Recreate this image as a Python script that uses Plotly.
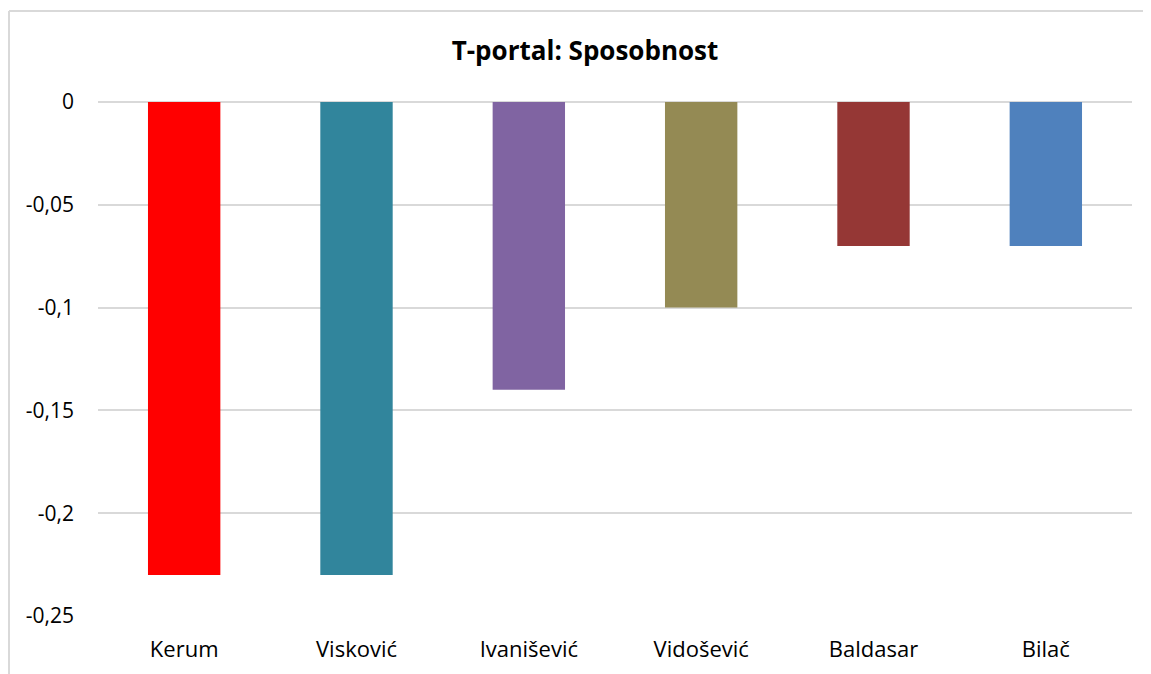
import plotly.graph_objects as go

categories = ["Kerum", "Visković", "Ivanišević", "Vidošević", "Baldasar", "Bilač"]
values = [-0.23, -0.23, -0.14, -0.10, -0.07, -0.07]
colors = ["#FF0000", "#31859C", "#8064A2", "#948A54", "#953735", "#4F81BD"]
tick_vals = [0, -0.05, -0.1, -0.15, -0.2, -0.25]
tick_text = ["0", "-0,05", "-0,1", "-0,15", "-0,2", "-0,25"]

VW, VH = 1151, 674
OFF = 8  # page body margin
W, H = VW - OFF, VH - OFF
L, R, T, B = 98 - OFF, 19, 102 - OFF, 58

fig = go.Figure(go.Bar(x=categories, y=values, marker_color=colors, marker_line_width=0, width=0.42))

pw = W - L - R
ph = H - T - B
bx0 = (9 - OFF - L) / pw
bx1 = (W + 40 - L) / pw
by0 = -(H) / ph
by1 = (H - B - (11 - OFF)) / ph
border = dict(color="#D9D9D9", width=2)
fig.add_shape(type="line", xref="paper", yref="paper", x0=bx0, x1=bx0, y0=by0, y1=by1, line=border, layer="below")
fig.add_shape(type="line", xref="paper", yref="paper", x0=bx0, x1=bx1, y0=by1, y1=by1, line=border, layer="below")

fig.update_layout(
    width=W, height=H,
    margin=dict(l=L, r=R, t=T, b=B),
    paper_bgcolor="white", plot_bgcolor="white",
    font=dict(family="Open Sans, Noto Sans, sans-serif", size=21, color="#000000"),
    title=dict(text="<b>T-portal: Sposobnost</b>", x=(585 - OFF) / W, xanchor="center",
               y=1 - (51 - OFF) / H, yanchor="middle", font=dict(size=26, color="#000000")),
    showlegend=False,
)
fig.update_xaxes(showgrid=False, showline=False, ticks="", tickfont=dict(size=22), ticklabelstandoff=18)
fig.update_yaxes(range=[-0.25, 0], tickvals=tick_vals, ticktext=tick_text,
                 showgrid=True, gridcolor="#D9D9D9", gridwidth=2,
                 zeroline=True, zerolinecolor="#D9D9D9", zerolinewidth=2,
                 showline=False, ticks="", ticklabelstandoff=23, tickfont=dict(size=21))

fig.write_html("out.html", config={"displayModeBar": False},
               post_script="document.documentElement.style.overflow='hidden';document.body.style.overflow='hidden';")
